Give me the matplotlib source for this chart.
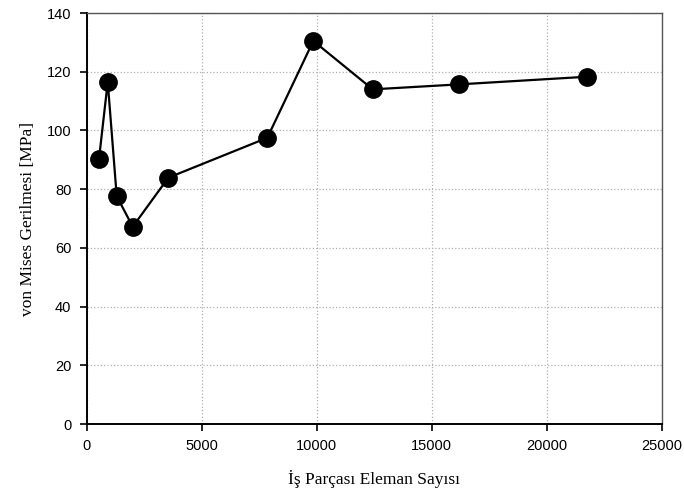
import matplotlib
matplotlib.use('Agg')
from matplotlib import pyplot as plt
from matplotlib.pyplot import MultipleLocator

# eleman sayisi vs von Mises gerilmesi
eleman = [535, 913, 1304, 2000, 3548, 7852, 9852, 12435, 16200, 21765]
gerilme = [90.4, 116.5, 77.6, 67.2, 83.9, 97.5, 130.5, 114.0, 115.7, 118.3]

fig = plt.figure(figsize=(6.84, 4.95), dpi=100)
ax = fig.add_axes([0.1268, 0.1434, 0.8406, 0.8303])

ax.plot(eleman, gerilme, '-o', color='black', linewidth=1.6, markersize=12.5, zorder=3)

ax.set_xlim(0, 25000)
ax.set_ylim(0, 140)
ax.xaxis.set_major_locator(MultipleLocator(5000))
ax.yaxis.set_major_locator(MultipleLocator(20))
ax.grid(axis='both', ls=':', lw=0.9, color='#b0b0b0')

for side in ['left', 'bottom']:
    ax.spines[side].set_linewidth(1.4)
    ax.spines[side].set_color('black')
for side in ['top', 'right']:
    ax.spines[side].set_linewidth(1.0)
    ax.spines[side].set_color('#555555')

ax.tick_params(direction='out', length=5, width=1.2, labelsize=10.5, pad=6)
for lab in ax.get_xticklabels() + ax.get_yticklabels():
    lab.set_fontfamily('Liberation Sans')

ax.set_xlabel('İş Parçası Eleman Sayısı', fontsize=12.5, family='Liberation Serif', labelpad=12)
ax.set_ylabel('von Mises Gerilmesi [MPa]', fontsize=12.5, family='Liberation Serif', labelpad=8)

plt.savefig('out.png', dpi=100)
plt.close()
